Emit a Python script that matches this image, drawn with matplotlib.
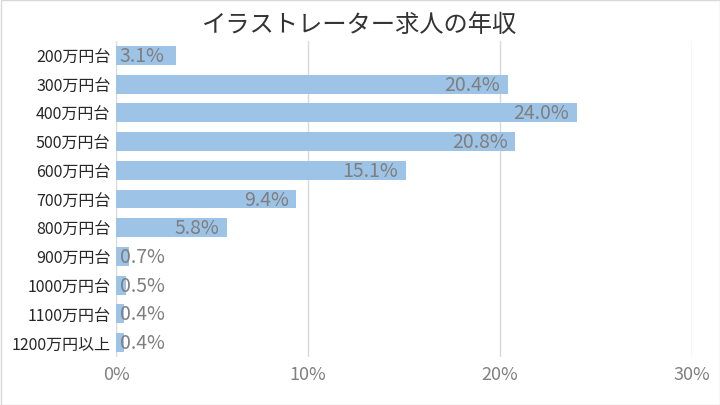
import matplotlib
matplotlib.use("Agg")
import matplotlib.pyplot as plt
from matplotlib.patches import Rectangle

plt.rcParams['font.family'] = ['Noto Sans CJK JP', 'DejaVu Sans']

categories = ["200万円台", "300万円台", "400万円台", "500万円台", "600万円台", "700万円台",
              "800万円台", "900万円台", "1000万円台", "1100万円台", "1200万円以上"]
values = [3.1, 20.4, 24.0, 20.8, 15.1, 9.4, 5.8, 0.7, 0.5, 0.4, 0.4]
xticks = [0, 10, 20, 30]
xticklabels = ["0%", "10%", "20%", "30%"]
title = "イラストレーター求人の年収"

fig = plt.figure(figsize=(7.2, 4.06), dpi=100)
ax = fig.add_axes([116/720, 1-358/406, (692-116)/720, (358-42)/406])

n = len(categories)
ys = list(range(n))
ax.barh(ys, values, height=0.66, color="#9DC3E6", zorder=3)
ax.set_ylim(n - 0.5, -0.5)
ax.set_xlim(0, 30)
ax.set_yticks(ys)
ax.set_yticklabels(categories, fontsize=11.5, color="#262626")
ax.set_xticks(xticks)
ax.set_xticklabels(xticklabels, fontsize=13, color="#808080")
ax.tick_params(length=0, pad=6)
ax.tick_params(axis='y', pad=4)
for s in ax.spines.values():
    s.set_visible(False)
ax.grid(axis='x', color="#d9d9d9", linewidth=1, zorder=0)

for y, v in zip(ys, values):
    lab = f"{v:.1f}%"
    if v >= 4:
        ax.text(v - 0.4, y, lab, ha='right', va='center', fontsize=14, color="#7f7f7f", zorder=4)
    else:
        ax.text(0.2, y, lab, ha='left', va='center', fontsize=14, color="#7f7f7f", zorder=4)

fig.text(0.5, 1 - 25/406, title, ha='center', va='center', fontsize=17.5, color="#333333")
fig.patches.append(Rectangle((0.5/720, 0.5/406), 1 - 1/720, 1 - 1/406, transform=fig.transFigure,
                             fill=False, edgecolor="#d9d9d9", linewidth=1))
fig.savefig("out.png", dpi=100)
